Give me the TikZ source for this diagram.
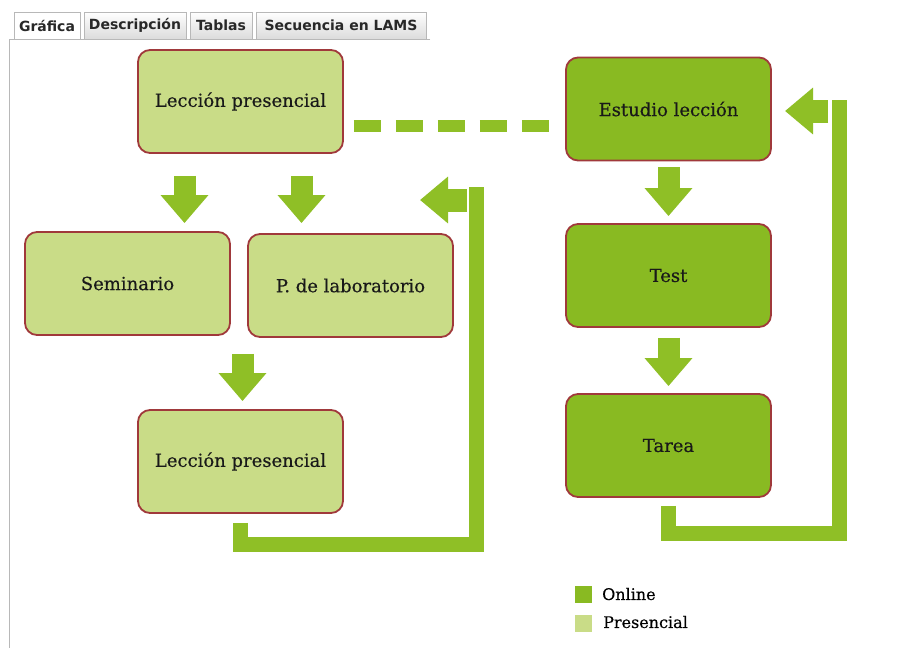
\documentclass[tikz,border=0pt]{standalone}
\usepackage{fontspec}
\usepackage{xcolor}
\usepackage{tikz}
\usetikzlibrary{shapes,arrows.meta}
\newfontfamily\boxfont[FakeBold=0.4]{DejaVu Serif}
\newfontfamily\tabfont{DejaVu Sans}
\definecolor{presgreen}{RGB}{201,220,135}
\definecolor{onlgreen}{RGB}{137,186,34}
\definecolor{arrgreen}{RGB}{143,191,38}
\definecolor{boxred}{RGB}{160,57,59}
\definecolor{tabgray}{RGB}{184,184,184}
\definecolor{tabtext}{RGB}{40,40,40}
\tikzstyle{box} = [draw=boxred, line width=1.8pt, rounded corners=12pt, minimum width=205pt, minimum height=103pt, inner sep=0pt, font=\boxfont\fontsize{18}{21}\selectfont, text=black!90]
\tikzstyle{pres} = [box, fill=presgreen]
\tikzstyle{onl} = [box, fill=onlgreen]
\tikzstyle{blkdown} = [draw=arrgreen, line width=22pt, -{Triangle[length=28pt,width=46pt]}]
\tikzstyle{blkleft} = [draw=arrgreen, line width=23pt, -{Triangle[length=28pt,width=45pt]}]
\tikzstyle{fback} = [draw=arrgreen, line width=15pt]
\tikzstyle{dashln} = [draw=arrgreen, line width=12pt, dash pattern=on 27pt off 15pt]
\tikzstyle{tabbox} = [draw=tabgray, line width=0.8pt, minimum height=27pt, inner sep=0pt, font=\tabfont\bfseries\fontsize{14}{16}\selectfont, text=tabtext, top color=white, bottom color=black!14]
\tikzstyle{legtxt} = [anchor=west, inner sep=0pt, font=\boxfont\fontsize{16}{18}\selectfont]

\begin{document}
\begin{tikzpicture}[x=1pt,y=-1pt]
\useasboundingbox[fill=white] (0,0) rectangle (908,648);
% tabs
\node[tabbox, minimum width=66pt, top color=white, bottom color=white] (tgraf) at (47,26) {Gráfica};
\node[tabbox, minimum width=102pt] (tdesc) at (135,25.5) {Descripción};
\node[tabbox, minimum width=62pt] (ttab) at (221,25.5) {Tablas};
\node[tabbox, minimum width=170pt] (tsec) at (341,25.5) {Secuencia en LAMS};
\draw[tabgray, line width=0.8pt] (430,39.5) -- (9,39.5) -- (9,648);
%
\node[pres] (lp1) at (240.5,101.5) {Lección presencial};
\node[pres] (sem) at (127.5,283.5) {Seminario};
\node[pres] (lab) at (350.5,285.5) {P. de laboratorio};
\node[pres] (lp2) at (240.5,461.5) {Lección presencial};
%
\node[onl] (est) at (668.5,109) {Estudio lección};
\node[onl] (test) at (668.5,275.5) {Test};
\node[onl] (tarea) at (668.5,445.5) {Tarea};
%
\draw[dashln] ([xshift=10pt,yshift=-24pt]lp1.east) -- ++(196,0);
%
\draw[blkdown, shorten <=22pt, shorten >=8pt] ([xshift=-56pt]lp1.south) -- ([xshift=-56pt]lp1.south |- sem.north);
\draw[blkdown, shorten <=22pt, shorten >=10pt] ([xshift=61pt]lp1.south) -- ([xshift=61pt]lp1.south |- lab.north);
\draw[blkdown, shorten <=16pt, shorten >=8pt] ([xshift=2pt]lp2.north |- lab.south) -- ([xshift=2pt]lp2.north);
\draw[blkdown, shorten <=6pt, shorten >=7pt] (test.north |- est.south) -- (test.north);
\draw[blkdown, shorten <=10pt, shorten >=7pt] (tarea.north |- test.south) -- (tarea.north);
%
\draw[fback] ([yshift=-9pt]lp2.south) |- (476,544) -- (476,187) coordinate (fbl);
\draw[blkleft] ([xshift=-9pt,yshift=-13pt]fbl) -- ++(-47,0);
\draw[fback] ([yshift=-8pt]tarea.south) |- (839,533) -- (839,100) coordinate (fbr);
\draw[blkleft] ([xshift=-11pt,yshift=-11pt]fbr) -- ++(-43,0);
%
\node[fill=onlgreen, minimum size=17pt, inner sep=0pt] (legon) at (583,594) {};
\node[fill=presgreen, minimum size=17pt, inner sep=0pt] (legpr) at (583,623) {};
\node[legtxt] (txon) at (602,594) {Online};
\node[legtxt] (txpr) at (603,622) {Presencial};
\end{tikzpicture}
\end{document}
